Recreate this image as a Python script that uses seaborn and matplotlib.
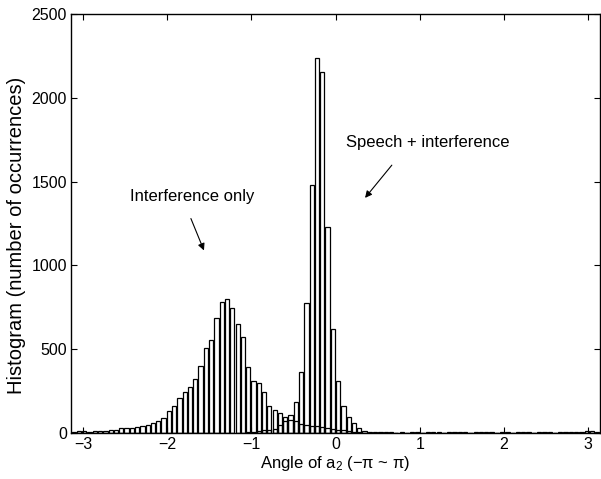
import numpy as np
import pandas as pd
import matplotlib
matplotlib.use("Agg")
import matplotlib.pyplot as plt
import seaborn as sns

# ---- data (counts per bin, 100 bins over -pi..pi) ----
n_bins = 100
tall_series = [
    8, 10, 9, 6, 10, 12, 12, 16, 18, 28,
    30, 27, 33, 44, 48, 60, 72, 91, 133, 163,
    209, 243, 276, 320, 398, 509, 555, 684, 780, 801,
    748, 652, 575, 392, 310, 296, 247, 161, 137, 117,
    97, 105, 183, 362, 774, 1480, 2240, 2152, 1227, 620,
    308, 163, 94, 58, 30, 14, 8, 5, 4, 3,
    6, 2, 4, 0, 5, 3, 2, 4, 6, 3,
    2, 5, 7, 4, 3, 2, 5, 3, 6, 4,
    2, 3, 5, 2, 4, 6, 3, 2, 5, 3,
    4, 2, 3, 5, 6, 4, 8, 14, 9, 5,
]
low_series = [0] * 33 + [
    3, 5, 10, 15, 15, 25, 45, 70, 75, 72,
    55, 45, 42, 40, 35, 30, 22, 20, 15, 12,
    8, 5,
] + [0] * 45
low_series = low_series[:n_bins]

x_ticks = [-3, -2, -1, 0, 1, 2, 3]
y_ticks = [0, 500, 1000, 1500, 2000, 2500]
label_interf = "Interference only"
label_speech = "Speech + interference"

binwidth = 2 * np.pi / n_bins
centers = -np.pi + binwidth * (np.arange(n_bins) + 0.5)
df = pd.DataFrame({"angle": centers, "tall": tall_series, "low": low_series})

sns.set_style("ticks")
plt.rcParams["font.family"] = ["Liberation Sans", "DejaVu Sans"]
plt.rcParams["mathtext.default"] = "regular"
for key in ["text.color", "axes.labelcolor", "xtick.color", "ytick.color", "axes.edgecolor"]:
    plt.rcParams[key] = "black"

fig = plt.figure(figsize=(6.01, 4.79), dpi=100)
ax = fig.add_axes([71 / 601, 1 - 433 / 479, 529 / 601, (433 - 14) / 479])

for col in ["tall", "low"]:
    sns.histplot(data=df, x="angle", weights=col, binwidth=binwidth,
                 binrange=(-np.pi, np.pi), fill=False, color="black",
                 linewidth=0.9, shrink=0.8, ax=ax)

ax.set_xlim(-np.pi, np.pi)
ax.set_ylim(0, 2500)
ax.set_xticks(x_ticks)
ax.set_xticklabels(["\u22123", "\u22122", "\u22121", "0", "1", "2", "3"])
ax.set_yticks(y_ticks)
ax.tick_params(direction="in", top=True, right=True, labelsize=11.5,
               length=4, width=0.8, pad=3)
for s in ax.spines.values():
    s.set_visible(True)
    s.set_linewidth(1.0)
    s.set_color("black")

ax.set_xlabel("Angle of a$_2$ (\u2212\u03c0 ~ \u03c0)", fontsize=12, labelpad=1)
ax.set_ylabel("Histogram (number of occurrences)", fontsize=14.5)
ax.yaxis.set_label_coords(-0.085, (433 - 235) / 419)

ax.text(-1.70, 1414, label_interf, ha="center", va="center", fontsize=12)
ax.annotate("", xy=(-1.55, 1074), xytext=(-1.73, 1295),
            arrowprops=dict(arrowstyle="-|>", color="black", lw=0.8, mutation_scale=10))
ax.text(1.09, 1736, label_speech, ha="center", va="center", fontsize=12)
ax.annotate("", xy=(0.33, 1390), xytext=(0.69, 1611),
            arrowprops=dict(arrowstyle="-|>", color="black", lw=0.8, mutation_scale=10))

fig.savefig("out.png", dpi=100)
